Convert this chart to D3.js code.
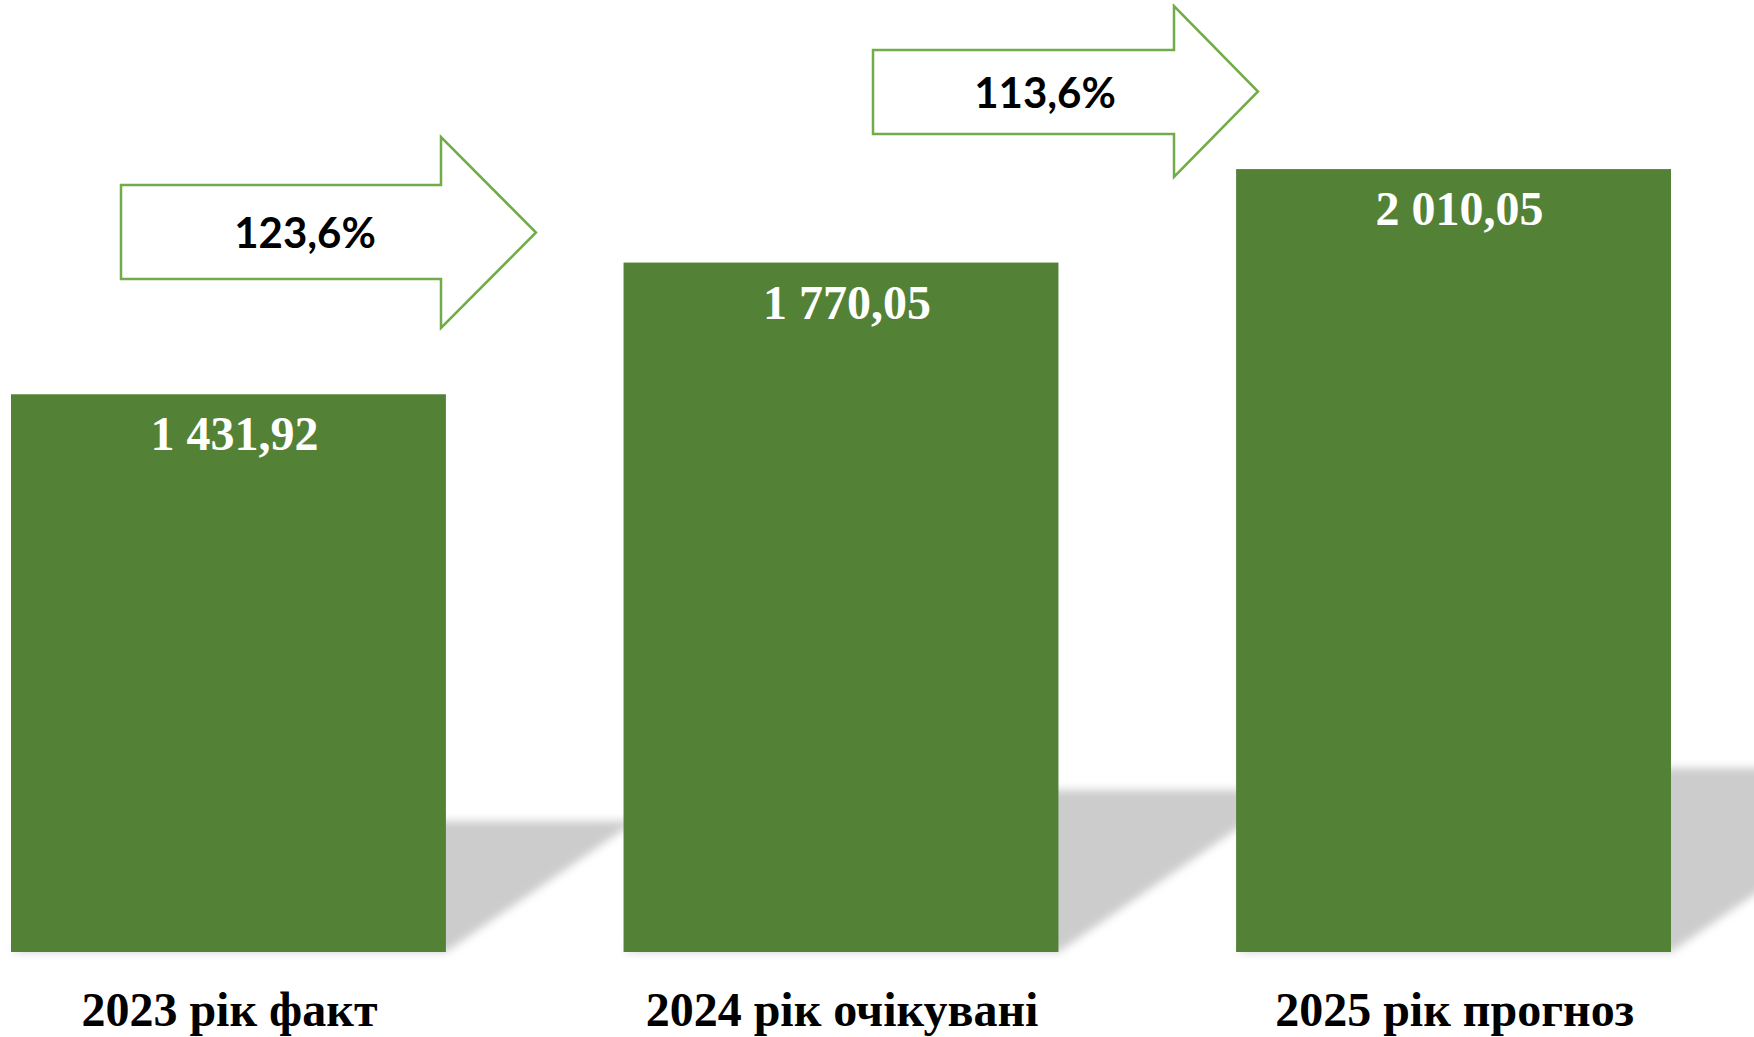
<!DOCTYPE html>
<html>
<head>
<meta charset="utf-8">
<script src="https://cdn.jsdelivr.net/npm/d3@7"></script>
<style>
  html, body { margin: 0; padding: 0; background: #ffffff; }
  svg { display: block; }
</style>
</head>
<body>
<svg id="chart" width="1754" height="1037"></svg>
<script>
// ---- data ----
const categories = ["2023 рік факт", "2024 рік очікувані", "2025 рік прогноз"];
const values = [1431.92, 1770.05, 2010.05];
const valueLabels = ["1 431,92", "1 770,05", "2 010,05"];
const growthLabels = ["123,6%", "113,6%"];

// ---- layout ----
const W = 1754, H = 1037;
const svg = d3.select("#chart");

const x = d3.scaleBand()
  .domain(categories)
  .range([11, 1671])
  .paddingInner(0.29)
  .paddingOuter(0);

const y = d3.scaleLinear()
  .domain([0, 2000])
  .range([952, 173]);

const barColor = "#538135";
const arrowStroke = "#70AD47";

// shadow filter
const defs = svg.append("defs");
const f = defs.append("filter").attr("id", "blur")
  .attr("x", "-20%").attr("y", "-20%").attr("width", "140%").attr("height", "140%");
f.append("feGaussianBlur").attr("stdDeviation", 4);

// shadows (cast to the right of each bar)
const base = y(0);
svg.append("g").selectAll("path.shadow")
  .data(categories)
  .join("path")
  .attr("class", "shadow")
  .attr("fill", "#cccccc")
  .attr("filter", "url(#blur)")
  .attr("d", (c, i) => {
    const x0 = x(c), x1 = x(c) + x.bandwidth();
    const h = base - y(values[i]);
    const sh = 0.235 * h;
    const d = 1.45 * sh;
    return `M${x0},${base} L${x1},${base} L${x1 + d},${base - sh} L${x0 + d},${base - sh} Z`;
  });

// bars
svg.append("g").selectAll("rect.bar")
  .data(categories)
  .join("rect")
  .attr("class", "bar")
  .attr("x", c => x(c))
  .attr("width", x.bandwidth())
  .attr("y", (c, i) => y(values[i]))
  .attr("height", (c, i) => base - y(values[i]))
  .attr("fill", barColor);

// value labels
svg.append("g").selectAll("text.val")
  .data(categories)
  .join("text")
  .attr("class", "val")
  .attr("x", c => x(c) + x.bandwidth() / 2 + 6)
  .attr("y", (c, i) => y(values[i]) + 56)
  .attr("text-anchor", "middle")
  .attr("font-family", "'Liberation Serif', 'Times New Roman', serif")
  .attr("font-weight", "bold")
  .attr("font-size", 48)
  .attr("fill", "#ffffff")
  .text((c, i) => valueLabels[i]);

// category labels
svg.append("g").selectAll("text.cat")
  .data(categories)
  .join("text")
  .attr("class", "cat")
  .attr("x", c => x(c) + x.bandwidth() / 2 + 1)
  .attr("y", 1026)
  .attr("text-anchor", "middle")
  .attr("font-family", "'Liberation Serif', 'Times New Roman', serif")
  .attr("font-weight", "bold")
  .attr("font-size", 48)
  .attr("fill", "#000000")
  .text(c => c);

// growth arrows (annotation geometry)
const arrows = [
  { left: 121, bodyTop: 185, bodyBot: 279, headX: 441, headTop: 137, headBot: 328, tipX: 536, textX: 305, textY: 248 },
  { left: 873, bodyTop: 50, bodyBot: 134, headX: 1174, headTop: 6, headBot: 177, tipX: 1258, textX: 1045, textY: 108 }
];
const ag = svg.append("g");
ag.selectAll("path.arrow")
  .data(arrows)
  .join("path")
  .attr("class", "arrow")
  .attr("fill", "#ffffff")
  .attr("stroke", arrowStroke)
  .attr("stroke-width", 2.5)
  .attr("d", a => {
    const cy = (a.headTop + a.headBot) / 2;
    return `M${a.left},${a.bodyTop} L${a.headX},${a.bodyTop} L${a.headX},${a.headTop} L${a.tipX},${cy} L${a.headX},${a.headBot} L${a.headX},${a.bodyBot} L${a.left},${a.bodyBot} Z`;
  });
ag.selectAll("text.growth")
  .data(arrows)
  .join("text")
  .attr("class", "growth")
  .attr("x", a => a.textX)
  .attr("y", a => a.textY)
  .attr("text-anchor", "middle")
  .attr("font-family", "Lato, 'Open Sans', sans-serif")
  .attr("font-weight", "bold")
  .attr("font-size", 42)
  .attr("fill", "#000000")
  .text((a, i) => growthLabels[i]);
</script>
</body>
</html>
